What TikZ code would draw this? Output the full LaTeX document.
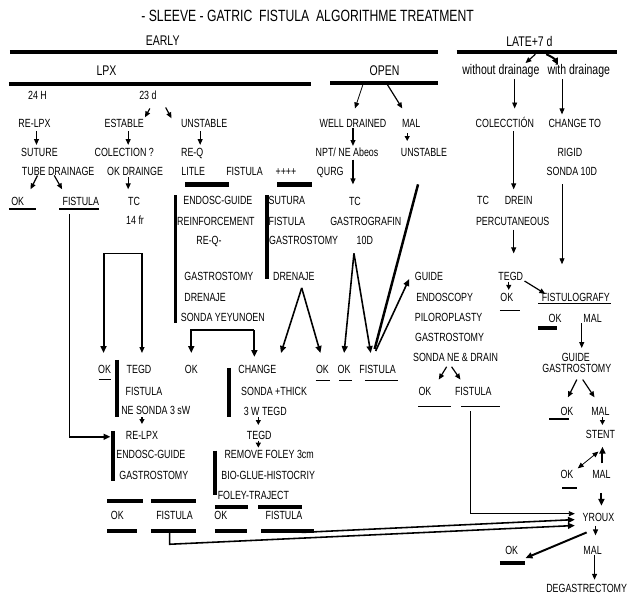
\documentclass[tikz,border=0pt]{standalone}
\usepackage{fontspec}
\setmainfont{Liberation Sans}[FakeStretch=0.75]
\usetikzlibrary{arrows.meta}
\begin{document}
\begin{tikzpicture}[x=1pt,y=-1pt,
  t/.style={inner sep=0pt, text height=8.5pt, text depth=0pt, font=\fontsize{12}{13}\selectfont},
  hd/.style={inner sep=0pt, font=\fontsize{14.2}{15}\selectfont},
  lc/.style={inner sep=0pt, font=\fontsize{14.2}{15}\selectfont},
  tt/.style={inner sep=0pt, font=\fontsize{16.5}{17}\selectfont},
  bar/.style={line width=4.5pt},
  vbar/.style={line width=4pt},
  ul/.style={line width=1.2pt},
  ar/.style={line width=1.2pt, -{Triangle[length=6pt,width=5pt]}},
  tar/.style={line width=0.8pt, -{Triangle[length=6pt,width=5pt]}},
  tk/.style={line width=2pt, -{Triangle[length=7pt,width=6pt]}},
  sar/.style={line width=1.2pt, -{Triangle[length=5pt,width=5pt]}}]
\fill[white] (0,0) rectangle (627,605);
% headers
\node[tt] (title) at (312,16) {- SLEEVE - GATRIC\ \ FISTULA\ \ ALGORITHME TREATMENT};
\node[hd] (early) at (165,41) {EARLY};
\node[hd] (late) at (537,42) {LATE+7 d};
\node[hd] (lpx) at (108,72) {LPX};
\node[hd] (open) at (390,72) {OPEN};
\node[lc] (wo) at (508,72) {without drainage};
\node[lc] (wd) at (587,72) {with drainage};
% bars
\coordinate (b1a) at (10,52.5); \coordinate (b1b) at (444,52.5);
\coordinate (b2a) at (463,52.5); \coordinate (b2b) at (626,52.5);
\coordinate (b3a) at (9,85); \coordinate (b3b) at (315,85);
\coordinate (b4a) at (335,84); \coordinate (b4b) at (444,84);
\draw[bar] (b1a) -- (b1b);
\draw[bar] (b2a) -- (b2b);
\draw[bar] (b3a) -- (b3b);
\draw[bar] (b4a) -- (b4b);
% text nodes
\node[t] (h24) at (38,97) {24 H};
\node[t] (d23) at (150,97) {23 d};
\node[t] (relpx1) at (35,125) {RE-LPX};
\node[t] (estable) at (126,125) {ESTABLE};
\node[t] (unst1) at (207,125) {UNSTABLE};
\node[t] (welld) at (358,125) {WELL DRAINED};
\node[t] (mal1) at (417,125) {MAL};
\node[t] (colec) at (512,125) {COLECCTIÓN};
\node[t] (chto) at (583,125) {CHANGE TO};
\node[t] (suture) at (40,154) {SUTURE};
\node[t] (colq) at (126,154) {COLECTION ?};
\node[t] (req) at (195,154) {RE-Q};
\node[t] (npt) at (352,154) {NPT/ NE Abeos};
\node[t] (unst2) at (430,154) {UNSTABLE};
\node[t] (rigid) at (578,154) {RIGID};
\node[t] (tube) at (59,174) {TUBE DRAINAGE};
\node[t] (okdr) at (137,174) {OK DRAINGE};
\node[t] (litle) at (196,174) {LITLE};
\node[t] (fist1) at (248,174) {FISTULA};
\node[t] (plus) at (290,174) {++++};
\node[t] (qurg) at (335,174) {QURG};
\node[t] (sonda10) at (580,174) {SONDA 10D};
\node[t] (ok1) at (18,204) {OK};
\node[t] (fist2) at (82,204) {FISTULA};
\node[t] (tc1) at (136,204) {TC};
\node[t] (endo1) at (221,203) {ENDOSC-GUIDE};
\node[t] (sutura) at (291,203) {SUTURA};
\node[t] (tc2) at (360,204) {TC};
\node[t] (tcd) at (490,203) {TC};
\node[t] (drein) at (526,203) {DREIN};
\node[t] (fr14) at (137,223) {14 fr};
\node[t] (reinf) at (219,224) {REINFORCEMENT};
\node[t] (fist3) at (291,224) {FISTULA};
\node[t] (gastrog) at (371,224) {GASTROGRAFIN};
\node[t] (percu) at (520,224) {PERCUTANEOUS};
\node[t] (reqm) at (212,244) {RE-Q-};
\node[t] (gast1) at (308,244) {GASTROSTOMY};
\node[t] (d10) at (370,244) {10D};
\node[t] (gast2) at (222,280) {GASTROSTOMY};
\node[t] (dren1) at (298,280) {DRENAJE};
\node[t] (guide1) at (435,280) {GUIDE};
\node[t] (tegd1) at (518,280) {TEGD};
\node[t] (dren2) at (208,302) {DRENAJE};
\node[t] (endosc) at (451,302) {ENDOSCOPY};
\node[t] (ok2) at (514,302) {OK};
\node[t] (fistg) at (584,302) {FISTULOGRAFY};
\node[t] (sy) at (226,322) {SONDA YEYUNOEN};
\node[t] (pilo) at (455,322) {PILOROPLASTY};
\node[t] (ok3) at (563,323) {OK};
\node[t] (mal2) at (601,323) {MAL};
\node[t] (gast3) at (456,342) {GASTROSTOMY};
\node[t] (sne) at (462,362) {SONDA NE \& DRAIN};
\node[t] (guide2) at (584,362) {GUIDE};
\node[t] (gast4) at (585,374) {GASTROSTOMY};
\node[t] (ok4) at (106,375) {OK};
\node[t] (tegd2) at (141,375) {TEGD};
\node[t] (ok5) at (194,375) {OK};
\node[t] (change) at (261,375) {CHANGE};
\node[t] (ok6) at (327,375) {OK};
\node[t] (ok7) at (349,375) {OK};
\node[t] (fist4) at (383,375) {FISTULA};
\node[t] (fist5) at (146,397) {FISTULA};
\node[t] (sthick) at (278,397) {SONDA +THICK};
\node[t] (ok8) at (431,397) {OK};
\node[t] (fist6) at (480,397) {FISTULA};
\node[t] (nes) at (158,416) {NE SONDA 3 sW};
\node[t] (w3) at (269,417) {3 W TEGD};
\node[t] (ok9) at (575,417) {OK};
\node[t] (mal3) at (609,417) {MAL};
\node[t] (relpx2) at (144,441) {RE-LPX};
\node[t] (tegd3) at (263,441) {TEGD};
\node[t] (stent) at (609,440) {STENT};
\node[t] (endo2) at (153,461) {ENDOSC-GUIDE};
\node[t] (remove) at (273,461) {REMOVE FOLEY 3cm};
\node[t] (gast5) at (156,482) {GASTROSTOMY};
\node[t] (bio) at (272,482) {BIO-GLUE-HISTOCRIY};
\node[t] (ok10) at (575,481) {OK};
\node[t] (mal4) at (610,481) {MAL};
\node[t] (foley) at (257,502) {FOLEY-TRAJECT};
\node[t] (ok11) at (119,523) {OK};
\node[t] (fist7) at (177,523) {FISTULA};
\node[t] (ok12) at (224,523) {OK};
\node[t] (fist8) at (288,523) {FISTULA};
\node[t] (yroux) at (607,525) {YROUX};
\node[t] (ok13) at (519,558) {OK};
\node[t] (mal5) at (601,558) {MAL};
\node[t] (degas) at (595,597) {DEGASTRECTOMY};
% thick short bars
\draw[line width=5pt] (188,187) -- (232,187);
\draw[line width=5pt] (281,187) -- (316,187);
\draw[vbar] (178,198) -- (178,328);
\draw[vbar] (271,198) -- (271,283);
\draw[vbar] (119,365) -- (119,423);
\draw[vbar] (232,373) -- (232,423);
\draw[vbar] (115,437) -- (115,488);
\draw[vbar] (218,457) -- (218,502);
\draw[vbar] (109,508) -- (145,508);
\draw[vbar] (153,508) -- (199,508);
\draw[vbar] (218,514) -- (252,514);
\draw[vbar] (262,514) -- (306,514);
\draw[vbar] (109,539) -- (139,539);
\draw[vbar] (153,539) -- (199,539);
\draw[vbar] (218,539) -- (251,539);
\draw[vbar] (265,539) -- (318,539);
\draw[vbar] (546,333) -- (565,333);
\draw[vbar] (507,571) -- (532,571);
% underlines
\draw[ul] (9,212) -- (37,212);
\draw[ul] (60,212) -- (100,212);
\draw[ul] (100,385) -- (113,385);
\draw[ul] (320,386) -- (335,386);
\draw[ul] (344,386) -- (357,386);
\draw[ul] (370,386) -- (404,386);
\draw[ul] (507,315) -- (527,315);
\draw[ul] (546,308) -- (620,308);
\draw[ul] (424,412) -- (457,412);
\draw[ul] (468,412) -- (507,412);
\draw[ul] (557,425) -- (577,425);
\draw[ul] (570,495) -- (585,495);
% arrows top
\draw[ar] (543,55) -- (533,64);
\draw[tk] (554,55) to[bend left=20] (566,66);
\draw[tar] (368,86) -- (360,110);
\draw[ar] (393,86) -- (408,110);
\draw[tar] (522,80) -- (522,110);
\draw[tar] (570,80) -- (570,116);
\draw[ar] (152,110) -- (147,119);
\draw[ar] (168,109) -- (174,120);
\draw[ar] (37,133) -- (37,147);
\draw[ar] (130,133) -- (130,147);
\draw[ar] (203,133) -- (203,147);
\draw[ar] (358,130) -- (358,148);
\draw[sar] (413,135) -- (413,143);
\draw[ar] (358,162) -- (358,187);
\draw[ar] (38,178) -- (31,192);
\draw[ar] (55,178) -- (63,192);
\draw[ar] (130,180) -- (130,192);
\draw[tar] (521,133) -- (521,192);
\draw[tar] (570,187) -- (570,268);
\draw[tar] (521,233) -- (521,257);
\draw[ar] (532,285) -- (553,298);
\draw[sar] (516,286) -- (516,294);
\draw[tar] (590,328) -- (590,353);
\draw[ar] (585,385) -- (576,403);
\draw[ar] (591,385) -- (603,403);
\draw[sar] (611,423) -- (611,431);
\draw[tar, {Triangle[length=6pt,width=5pt]}-{Triangle[length=6pt,width=5pt]}] (586,475) -- (607,458);
\draw[tk] (611,470) -- (611,453);
\draw[tk] (610,500) -- (610,513);
\draw[ar] (604,533) -- (604,543);
\draw[tk] (595,540) -- (533,566);
\draw[ar] (603,563) -- (603,588);
\draw[ar] (453,372) -- (445,385);
\draw[ar] (458,372) -- (467,385);
% long connectors
\draw[tar] (477,417) |- (583,521);
\draw[line width=1.6pt, -{Triangle[length=7pt,width=6pt]}] (306,540) -- (583,527);
\draw[line width=1.6pt, -{Triangle[length=7pt,width=6pt]}] (172,539) -- (172,552) -- (583,533);
\draw[line width=1pt] (70,217) -- (70,443);
\draw[tk] (70,443) -- (112,443);
\draw[tk] (105,257) -- (105,358);
\draw[line width=1pt] (105,257) -- (144,257);
\draw[ar] (144,257) -- (144,358);
\draw[tk] (194,336) -- (194,358);
\draw[line width=2pt] (193,335) -- (258,335);
\draw[tk] (258,335) -- (258,362);
\draw[sar] (144,423) -- (144,430);
\draw[sar] (262,423) -- (262,431);
\draw[sar] (262,447) -- (262,454);
\draw[line width=1.6pt, -{Triangle[length=7pt,width=6pt]}] (306,292) -- (285,358);
\draw[line width=1.6pt, -{Triangle[length=7pt,width=6pt]}] (306,292) -- (325,358);
\draw[line width=1.6pt, -{Triangle[length=7pt,width=6pt]}] (359,257) -- (349,358);
\draw[line width=1.6pt, -{Triangle[length=7pt,width=6pt]}] (359,257) -- (376,358);
\draw[line width=2.5pt] (424,187) -- (380,354);
\draw[line width=1.6pt, -{Triangle[length=7pt,width=6pt]}] (381,356) -- (415,283);
\end{tikzpicture}
\end{document}
